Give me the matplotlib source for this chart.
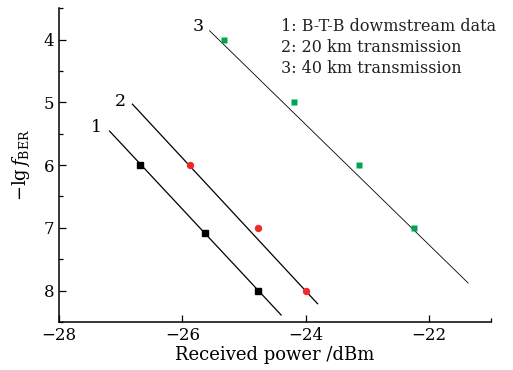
import matplotlib
matplotlib.use('Agg')
import matplotlib.pyplot as plt
from matplotlib.ticker import MultipleLocator, FixedLocator

plt.rcParams['font.family'] = ['DejaVu Serif']
plt.rcParams['mathtext.fontset'] = 'dejavuserif'

# measured points (received power in dBm, -lg BER)
btb_power = [-26.68, -25.63, -24.78]
btb_ber = [6.0, 7.08, 8.0]
km20_power = [-25.88, -24.77, -23.99]
km20_ber = [6.0, 7.0, 8.0]
km40_power = [-25.33, -24.19, -23.14, -22.25]
km40_ber = [4.0, 5.0, 6.0, 7.0]

# fitted lines (end points)
fit1_x = [-27.18, -24.40]
fit1_y = [5.46, 8.39]
fit2_x = [-26.81, -23.81]
fit2_y = [5.03, 8.21]
fit3_x = [-25.56, -21.37]
fit3_y = [3.86, 7.88]

legend_lines = ['1: B-T-B dowmstream data', '2: 20 km transmission', '3: 40 km transmission']

fig = plt.figure(figsize=(5.13, 3.70), dpi=100)
ax = fig.add_axes([0.115, 0.130, 0.842, 0.848])

ax.plot(fit1_x, fit1_y, color='black', lw=0.9)
ax.plot(fit2_x, fit2_y, color='black', lw=0.9)
ax.plot(fit3_x, fit3_y, color='black', lw=0.6)

ax.plot(btb_power, btb_ber, 's', color='black', ms=4.8, ls='none')
ax.plot(km20_power, km20_ber, 'o', color='#f02828', ms=5.3, ls='none', mec='none')
ax.plot(km40_power, km40_ber, 's', color='#00a550', ms=4.6, ls='none', mec='none')

# curve numbers
ax.text(-27.40, 5.41, '1', fontsize=12.5, ha='center', va='center')
ax.text(-27.00, 4.99, '2', fontsize=12.5, ha='center', va='center')
ax.text(-25.75, 3.80, '3', fontsize=12.5, ha='center', va='center')

for i, s in enumerate(legend_lines):
    ax.text(0.515, 0.941 - i * 0.067, s, transform=ax.transAxes, fontsize=11.5,
            ha='left', va='center', color='#222222')

ax.set_xlim(-28, -21)
ax.set_ylim(8.5, 3.5)
ax.xaxis.set_major_locator(MultipleLocator(2))
ax.xaxis.set_minor_locator(FixedLocator([-21]))
ax.yaxis.set_major_locator(MultipleLocator(1))
ax.yaxis.set_minor_locator(MultipleLocator(0.5))
ax.tick_params(which='both', direction='in', labelsize=12, width=0.9)
ax.tick_params(which='major', length=5)
ax.tick_params(which='minor', length=3)
ax.tick_params(axis='x', pad=4)

ax.spines['top'].set_visible(False)
ax.spines['right'].set_visible(False)
ax.spines['left'].set_linewidth(1.1)
ax.spines['bottom'].set_linewidth(1.1)

ax.set_xlabel('Received power /dBm', fontsize=13, labelpad=1)
ax.set_ylabel(r'$-\mathrm{lg}\,f_{\mathrm{BER}}$', fontsize=13, labelpad=8)

fig.savefig('out.png', dpi=100)
